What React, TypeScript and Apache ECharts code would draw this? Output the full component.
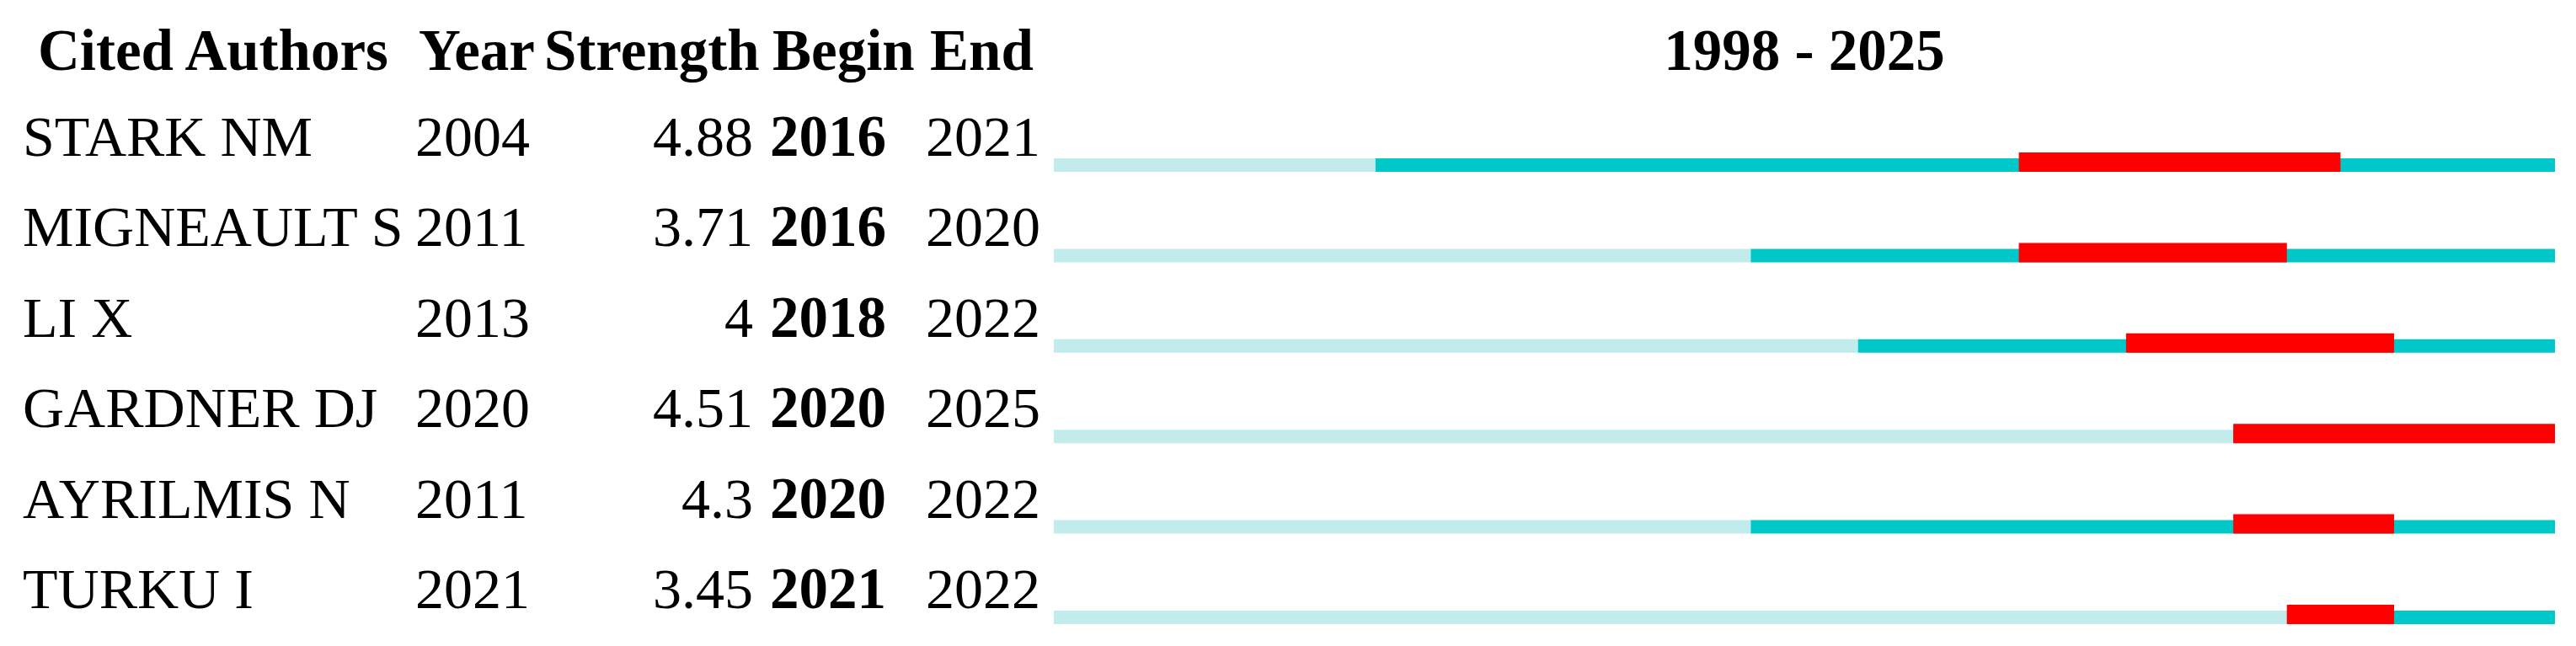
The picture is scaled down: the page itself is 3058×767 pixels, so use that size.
import React, { useEffect, useRef } from "react";
import * as echarts from "echarts";

const authors = ["STARK NM", "MIGNEAULT S", "LI X", "GARDNER DJ", "AYRILMIS N", "TURKU I"];
const years = [2004, 2011, 2013, 2020, 2011, 2021];
const strengths = [4.88, 3.71, 4, 4.51, 4.3, 3.45];
const begins = [2016, 2016, 2018, 2020, 2020, 2021];
const ends = [2021, 2020, 2022, 2025, 2022, 2022];
const rangeStart = 1998;
const rangeEnd = 2025;
const headers = ["Cited Authors", "Year", "Strength", "Begin", "End"];

const FONT = '"Liberation Serif", "Times New Roman", serif';
const LIGHT = "#C2ECEC";
const TEAL = "#00C8C8";
const RED = "#FF0000";

export default function App() {
  const ref = useRef<HTMLDivElement>(null);
  useEffect(() => {
    if (!ref.current) return;
    const chart = echarts.init(ref.current, null, { renderer: "svg" });

    // segments: [row, x0, x1, kind]  kind 0 light, 1 teal, 2 red
    const segs: number[][] = [];
    authors.forEach((_, i) => {
      if (years[i] > rangeStart) segs.push([i, rangeStart, years[i], 0]);
      segs.push([i, years[i], rangeEnd + 1, 1]);
      segs.push([i, begins[i], ends[i] + 1, 2]);
    });

    const rows = authors.map((_, i) => [i]);

    const textStyle = (text: string, x: number, y: number, bold: boolean, align: string) => ({
      type: "text",
      x,
      y,
      style: {
        text,
        fill: "#000",
        fontFamily: FONT,
        fontSize: bold ? 69 : 68,
        fontWeight: bold ? "bold" : "normal",
        align,
        verticalAlign: "middle",
      },
    });

    const TEXT_DY = -34;
    const HEAD_Y = 60;

    chart.setOption({
      animation: false,
      backgroundColor: "#ffffff",
      grid: { left: 1251, width: 1782, top: 196, height: 5 * 107.4 },
      xAxis: { type: "value", min: rangeStart, max: rangeEnd + 1, show: false },
      yAxis: { type: "value", min: 0, max: authors.length - 1, inverse: true, show: false },
      graphic: [
        textStyle(headers[0], 45, HEAD_Y, true, "left"),
        textStyle(headers[1], 497, HEAD_Y, true, "left"),
        textStyle(headers[2], 646, HEAD_Y, true, "left"),
        textStyle(headers[3], 917, HEAD_Y, true, "left"),
        textStyle(headers[4], 1104, HEAD_Y, true, "left"),
        textStyle(`${rangeStart} - ${rangeEnd}`, 1251 + 1782 / 2, HEAD_Y, true, "center"),
      ],
      series: [
        {
          type: "custom",
          data: segs,
          encode: { x: [1, 2], y: 0 },
          renderItem: (params: any, api: any) => {
            const row = api.value(0);
            const p0 = api.coord([api.value(1), row]);
            const p1 = api.coord([api.value(2), row]);
            const kind = api.value(3);
            const c = p0[1];
            const top = kind === 2 ? c - 15 : c - 8;
            const bottom = c + 8;
            return {
              type: "rect",
              shape: { x: p0[0], y: top, width: p1[0] - p0[0], height: bottom - top },
              style: { fill: kind === 0 ? LIGHT : kind === 1 ? TEAL : RED },
              z2: kind,
            };
          },
        },
        {
          type: "custom",
          data: rows,
          encode: { y: 0 },
          renderItem: (params: any, api: any) => {
            const i = api.value(0);
            const c = api.coord([rangeStart, i])[1];
            const y = c + TEXT_DY;
            return {
              type: "group",
              children: [
                textStyle(authors[i], 27, y, false, "left"),
                textStyle(String(years[i]), 493, y, false, "left"),
                textStyle(String(strengths[i]), 894, y, false, "right"),
                textStyle(String(begins[i]), 914, y, true, "left"),
                textStyle(String(ends[i]), 1099, y, false, "left"),
              ],
            };
          },
        },
      ],
    });
    return () => chart.dispose();
  }, []);
  return (
    <div
      ref={ref}
      style={{ position: "absolute", left: 0, top: 0, width: 3058, height: 767, background: "#fff" }}
    />
  );
}
